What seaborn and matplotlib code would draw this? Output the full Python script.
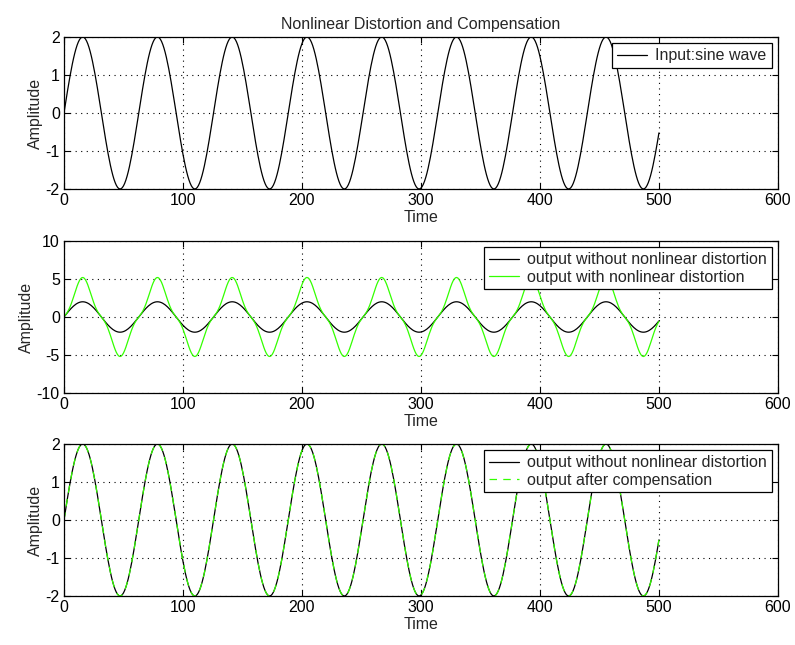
import numpy as np
import pandas as pd
import matplotlib
matplotlib.use("Agg")
import matplotlib.pyplot as plt
import seaborn as sns

# signal: 2*sin(0.1*t), t = 0..500
time = np.arange(0, 501)
amplitude = 2.0
omega = 0.1
cubic_coef = 0.4  # distorted peak ~5.2 for input 2

x_ticks = [0, 100, 200, 300, 400, 500, 600]
y_ticks_small = [-2, -1, 0, 1, 2]
y_ticks_big = [-10, -5, 0, 5, 10]

sine_in = amplitude * np.sin(omega * time)
distorted = sine_in + cubic_coef * sine_in ** 3
compensated = sine_in.copy()

df = pd.DataFrame({
    "Time": time,
    "input": sine_in,
    "distorted": distorted,
    "compensated": compensated,
})

sns.set_style("ticks")
plt.rcParams["font.family"] = ["Liberation Sans", "DejaVu Sans"]
plt.rcParams["font.size"] = 11.5
plt.rcParams["axes.unicode_minus"] = False

fig = plt.figure(figsize=(7.95, 6.45), dpi=100)
left, width, height = 0.0805, 0.898, 0.2357
ax1 = fig.add_axes([left, 0.707, width, height])
ax2 = fig.add_axes([left, 0.3907, width, height])
ax3 = fig.add_axes([left, 0.076, width, height])

green = "#33ff00"
lw = 0.9

sns.lineplot(data=df, x="Time", y="input", ax=ax1, color="black", lw=lw,
             label="Input:sine wave", estimator=None)
sns.lineplot(data=df, x="Time", y="input", ax=ax2, color="black", lw=lw,
             label="output without nonlinear distortion", estimator=None)
sns.lineplot(data=df, x="Time", y="distorted", ax=ax2, color=green, lw=lw,
             label="output with nonlinear distortion", estimator=None)
sns.lineplot(data=df, x="Time", y="input", ax=ax3, color="black", lw=lw,
             label="output without nonlinear distortion", estimator=None)
sns.lineplot(data=df, x="Time", y="compensated", ax=ax3, color=green, lw=lw,
             linestyle=(0, (6, 5)), label="output after compensation", estimator=None)

for ax, yt in [(ax1, y_ticks_small), (ax2, y_ticks_big), (ax3, y_ticks_small)]:
    ax.set_xlim(0, 600)
    ax.set_ylim(yt[0], yt[-1])
    ax.set_xticks(x_ticks)
    ax.set_yticks(yt)
    ax.set_xlabel("Time", labelpad=1)
    ax.set_ylabel("Amplitude", labelpad=2)
    ax.grid(True, color="black", linestyle=(0, (1, 4)), linewidth=0.8)
    ax.tick_params(direction="in", top=True, right=True, length=4, width=0.8,
                   labelsize=11.5, pad=3, colors="black")
    for s in ax.spines.values():
        s.set_linewidth(0.9)
        s.set_color("black")
    leg = ax.legend(loc="upper right", fancybox=False, framealpha=1,
                    edgecolor="black", fontsize=11.5, borderaxespad=0.4,
                    handlelength=1.9, handletextpad=0.5, borderpad=0.3,
                    labelspacing=0.15)
    leg.get_frame().set_linewidth(0.9)

ax1.set_title("Nonlinear Distortion and Compensation", fontsize=11.5, pad=6)

fig.savefig("out.png", dpi=100)
